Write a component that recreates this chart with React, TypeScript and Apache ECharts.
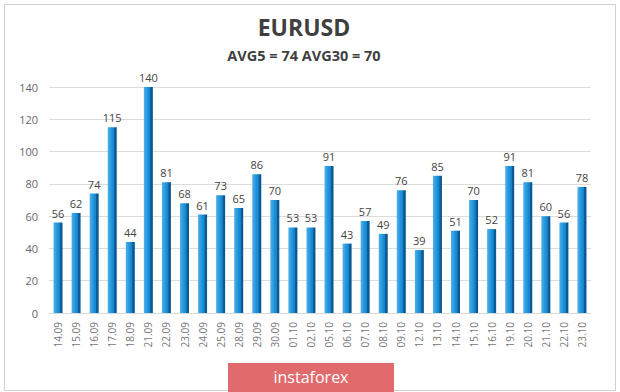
import React, { useEffect, useRef } from "react";
import * as echarts from "echarts";

const categories = ["14.09","15.09","16.09","17.09","18.09","21.09","22.09","23.09","24.09","25.09","28.09","29.09","30.09","01.10","02.10","05.10","06.10","07.10","08.10","09.10","12.10","13.10","14.10","15.10","16.10","19.10","20.10","21.10","22.10","23.10"];
const values = [56,62,74,115,44,140,81,68,61,73,65,86,70,53,53,91,43,57,49,76,39,85,51,70,52,91,81,60,56,78];
const titleText = "EURUSD";
const subtitleText = "AVG5 = 74 AVG30 = 70";
const brandText = "instaforex";

export default function App() {
  const ref = useRef<HTMLDivElement>(null);
  useEffect(() => {
    if (!ref.current) return;
    const chart = echarts.init(ref.current, null, { renderer: "svg" });
    const font = "'Open Sans', 'Noto Sans', sans-serif";
    chart.setOption({
      animation: false,
      backgroundColor: "#ffffff",
      textStyle: { fontFamily: font },
      grid: { left: 49, right: 29, top: 87, bottom: 79 },
      xAxis: {
        type: "category",
        data: categories,
        axisLine: { show: true, lineStyle: { color: "#d9d9d9" } },
        axisTick: { show: false },
        axisLabel: { rotate: 90, fontSize: 10, color: "#777777", margin: 9, fontFamily: font },
      },
      yAxis: {
        type: "value",
        min: 0,
        max: 140,
        interval: 20,
        axisLine: { show: false },
        axisTick: { show: false },
        axisLabel: { fontSize: 11, color: "#666666", margin: 11, fontFamily: font },
        splitLine: { lineStyle: { color: "#dcdcdc", width: 1 } },
      },
      series: [
        {
          type: "bar",
          data: values,
          barWidth: 9,
          itemStyle: {
            color: new echarts.graphic.LinearGradient(0, 0, 1, 0, [
              { offset: 0, color: "#4fb0ea" },
              { offset: 0.45, color: "#1e93db" },
              { offset: 0.7, color: "#1582c8" },
              { offset: 0.75, color: "#0b5e99" },
              { offset: 1, color: "#0a5690" },
            ]),
          },
          label: { show: true, position: "top", distance: 4, fontSize: 11, color: "#444444", fontFamily: font },
        },
      ],
      graphic: [
        { type: "rect", left: 2, top: 2, shape: { width: 611, height: 386 }, style: { fill: "none", stroke: "#d0d0d0", lineWidth: 1 }, silent: true },
        { type: "text", x: 304, y: 27, style: { text: titleText, fill: "#3f3f3f", fontSize: 23, fontWeight: "bold", fontFamily: font, textAlign: "center", textVerticalAlign: "middle" } },
        { type: "text", x: 304, y: 55, style: { text: subtitleText, fill: "#3f3f3f", fontSize: 14.5, fontWeight: "bold", fontFamily: font, textAlign: "center", textVerticalAlign: "middle" } },
        {
          type: "group",
          left: 228,
          top: 363,
          children: [
            { type: "rect", shape: { x: 0, y: 0, width: 166, height: 30 }, style: { fill: "#e06a6c" } },
            { type: "text", x: 83, y: 14, style: { text: brandText, fill: "#ffffff", fontSize: 16, fontFamily: font, textAlign: "center", textVerticalAlign: "middle" } },
          ],
        },
      ],
    });
    return () => chart.dispose();
  }, []);
  return <div ref={ref} style={{ position: "absolute", left: 0, top: 0, width: 620, height: 392 }} />;
}
